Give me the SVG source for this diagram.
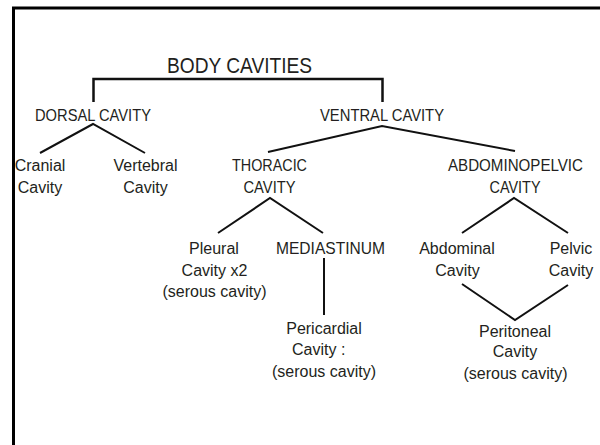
<svg xmlns="http://www.w3.org/2000/svg" width="600" height="445" viewBox="0 0 600 445">
<style>
text{font-family:"Liberation Sans",Arial,sans-serif;fill:#231f20;text-anchor:middle}
.t{font-size:21.5px}
.c{font-size:16.4px}
.l{font-size:16px}
.ln{stroke:#111;stroke-width:2;fill:none;stroke-linecap:butt;stroke-linejoin:miter}
</style>
<rect width="600" height="445" fill="#fff"/>
<path d="M13.5,445 V8 H600" fill="none" stroke="#000" stroke-width="3"/>
<g id="body-cavities"><text class="t" x="239.5" y="73" textLength="145" lengthAdjust="spacingAndGlyphs">BODY CAVITIES</text></g>
<g id="dorsal-cavity"><text class="c" x="93" y="121" textLength="116" lengthAdjust="spacingAndGlyphs">DORSAL CAVITY</text></g>
<g id="ventral-cavity"><text class="c" x="382" y="121" textLength="124" lengthAdjust="spacingAndGlyphs">VENTRAL CAVITY</text></g>
<g id="cranial-cavity"><text class="l" x="40" y="171">Cranial</text><text class="l" x="40" y="193">Cavity</text></g>
<g id="vertebral-cavity"><text class="l" x="145.5" y="171">Vertebral</text><text class="l" x="145.5" y="193">Cavity</text></g>
<g id="thoracic-cavity"><text class="c" x="269.5" y="171" textLength="75" lengthAdjust="spacingAndGlyphs">THORACIC</text><text class="c" x="269.5" y="193" textLength="52" lengthAdjust="spacingAndGlyphs">CAVITY</text></g>
<g id="abdominopelvic-cavity"><text class="c" x="515.5" y="171" textLength="135" lengthAdjust="spacingAndGlyphs">ABDOMINOPELVIC</text><text class="c" x="515" y="193" textLength="51" lengthAdjust="spacingAndGlyphs">CAVITY</text></g>
<g id="pleural-cavity"><text class="l" x="214" y="254">Pleural</text><text class="l" x="214.5" y="276">Cavity x2</text><text class="l" x="214.5" y="297">(serous cavity)</text></g>
<g id="mediastinum"><text class="c" x="330.5" y="254" textLength="109" lengthAdjust="spacingAndGlyphs">MEDIASTINUM</text></g>
<g id="abdominal-cavity"><text class="l" x="457" y="254">Abdominal</text><text class="l" x="457.5" y="276">Cavity</text></g>
<g id="pelvic-cavity"><text class="l" x="571" y="254">Pelvic</text><text class="l" x="571" y="276">Cavity</text></g>
<g id="pericardial-cavity"><text class="l" x="324" y="334">Pericardial</text><text class="l" x="292" y="355" style="text-anchor:start">Cavity :</text><text class="l" x="324" y="377">(serous cavity)</text></g>
<g id="peritoneal-cavity"><text class="l" x="515" y="337">Peritoneal</text><text class="l" x="515" y="357">Cavity</text><text class="l" x="515.5" y="379">(serous cavity)</text></g>
<g id="connectors">
<path class="ln" style="stroke-width:2.5" d="M93.5,102 V79 H382.5 V102"/>
<path class="ln" d="M40,153 L93,124 L145,153"/>
<path class="ln" d="M268,152 L382,126 L515,151"/>
<path class="ln" d="M218,233 L270,198 L323,233"/>
<path class="ln" d="M462,233 L514,198 L568,233"/>
<path class="ln" d="M324,258 V315"/>
<path class="ln" d="M462,284 L515,320 L568,285"/>
</g>
</svg>
